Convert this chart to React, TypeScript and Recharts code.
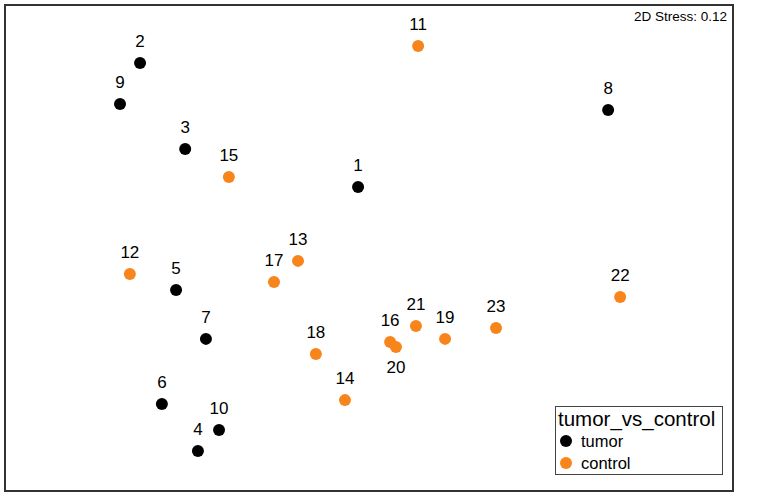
import { ScatterChart, Scatter, XAxis, YAxis, ReferenceArea } from "recharts";

// NMDS ordination scores
const tumorIds = ["1", "2", "3", "4", "5", "6", "7", "8", "9", "10"];
const tumorX = [-0.03, -0.629, -0.505, -0.47, -0.53, -0.569, -0.448, 0.657, -0.684, -0.412];
const tumorY = [0.251, 0.761, 0.407, -0.835, -0.173, -0.642, -0.374, 0.568, 0.593, -0.749];

const controlIds = ["11", "12", "13", "14", "15", "16", "17", "18", "19", "20", "21", "22", "23"];
const controlX = [0.135, -0.657, -0.195, -0.066, -0.385, 0.058, -0.261, -0.146, 0.209, 0.074, 0.129, 0.69, 0.349];
const controlY = [0.831, -0.107, -0.053, -0.626, 0.292, -0.387, -0.14, -0.436, -0.374, -0.407, -0.321, -0.202, -0.329];

// labels drawn under the point instead of above
const labelsBelow = ["20"];

const stressLabel = "2D Stress: 0.12";
const legendTitle = "tumor_vs_control";

const TUMOR = "#000000";
const CONTROL = "#F8851C";
const FONT = "'Liberation Sans', Arial, sans-serif";

const build = (ids: string[], xs: number[], ys: number[]) =>
  ids.map((id, i) => ({ id, nmds1: xs[i], nmds2: ys[i] }));

const tumorData = build(tumorIds, tumorX, tumorY);
const controlData = build(controlIds, controlX, controlY);

const makeShape = (color: string) => (props: any) => {
  const { cx, cy, payload } = props;
  const below = labelsBelow.includes(payload.id);
  return (
    <g>
      <circle cx={cx} cy={cy} r={6} fill={color} />
      <text
        x={cx}
        y={below ? cy + 26 : cy - 16}
        textAnchor="middle"
        fontSize={17}
        fontFamily={FONT}
        fill="#000"
      >
        {payload.id}
      </text>
    </g>
  );
};

export default function App() {
  return (
    <div style={{ position: "absolute", left: 0, top: 0, width: 760, height: 497, background: "#fff" }}>
      <ScatterChart width={760} height={497} margin={{ top: 5, right: 27, bottom: 6, left: 5 }}>
        <XAxis type="number" dataKey="nmds1" domain={[-1, 1]} hide />
        <YAxis type="number" dataKey="nmds2" domain={[-1, 1]} hide />
        <ReferenceArea
          x1={-1}
          x2={1}
          y1={-1}
          y2={1}
          fill="none"
          stroke="#333"
          strokeWidth={2}
          ifOverflow="visible"
        />
        <Scatter data={tumorData} shape={makeShape(TUMOR)} isAnimationActive={false} />
        <Scatter data={controlData} shape={makeShape(CONTROL)} isAnimationActive={false} />
      </ScatterChart>

      <div
        style={{
          position: "absolute",
          right: 33,
          top: 9,
          fontFamily: FONT,
          fontSize: 13.5,
          lineHeight: "16px",
          color: "#000",
        }}
      >
        {stressLabel}
      </div>

      <div
        style={{
          position: "absolute",
          left: 555,
          top: 406,
          width: 166,
          height: 67,
          border: "1px solid #444",
          background: "#fff",
          fontFamily: FONT,
          color: "#000",
          boxSizing: "content-box",
        }}
      >
        <div style={{ fontSize: 20.5, lineHeight: "22px", marginLeft: 2, marginTop: 1 }}>{legendTitle}</div>
        {[
          { name: "tumor", color: TUMOR },
          { name: "control", color: CONTROL },
        ].map((item) => (
          <div
            key={item.name}
            style={{ display: "flex", alignItems: "center", fontSize: 16.5, lineHeight: "22px", marginLeft: 2 }}
          >
            <span
              style={{
                display: "inline-block",
                width: 12,
                height: 12,
                borderRadius: 6,
                background: item.color,
                marginRight: 9,
                marginLeft: 2,
              }}
            />
            {item.name}
          </div>
        ))}
      </div>
    </div>
  );
}
